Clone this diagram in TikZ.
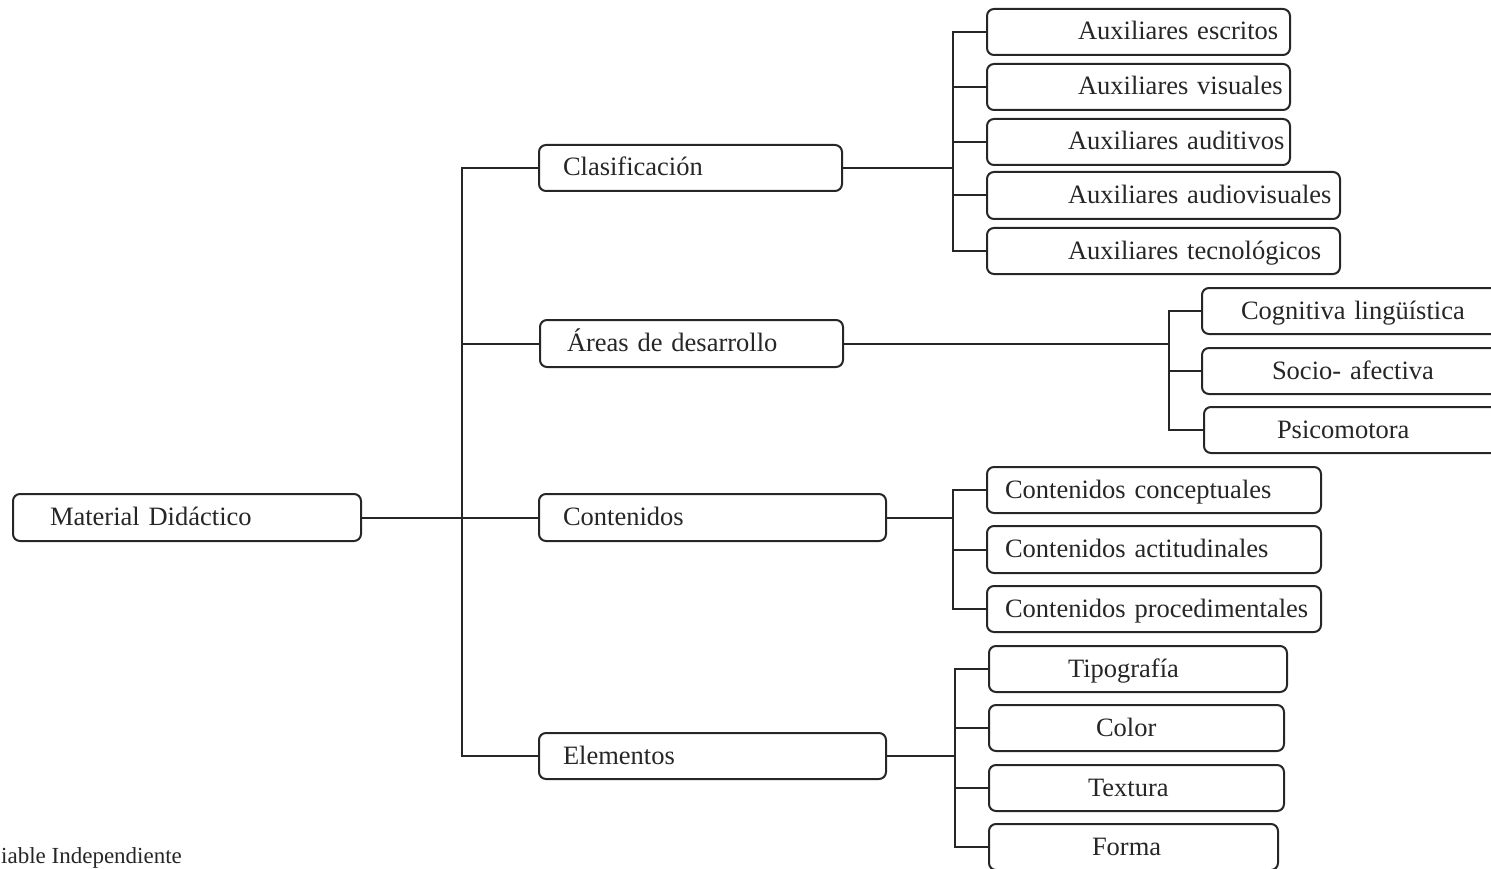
\documentclass[tikz,border=0pt]{standalone}
\usepackage{fontspec}
\setmainfont{Liberation Serif}
\usetikzlibrary{calc}
\newcommand{\bs}{\rule[-8pt]{0pt}{32pt}}
\tikzset{
  box/.style={draw=black!85, line width=2pt, rounded corners=7pt, anchor=north west,
    inner xsep=0pt, inner ysep=0pt, outer sep=0pt, align=left,
    font=\fontsize{26.5}{30}\selectfont, text=black!85},
  conn/.style={draw=black!85, line width=2pt},
}
\begin{document}
\begin{tikzpicture}[x=1pt,y=-1pt]
\useasboundingbox (0,0) rectangle (1491,869);
\clip (0,0) rectangle (1491,869);
% level 0 / 1
\node[box, text width=348pt, minimum height=47pt] (mat) at (13,494) {\hspace*{37pt}\bs Material Didáctico};
\node[box, text width=303pt, minimum height=46pt] (clas) at (539,145) {\hspace*{24pt}\bs Clasificación};
\node[box, text width=303pt, minimum height=47pt] (areas) at (540,320) {\hspace*{27pt}\bs Áreas de desarrollo};
\node[box, text width=347pt, minimum height=47pt] (cont) at (539,494) {\hspace*{24pt}\bs Contenidos};
\node[box, text width=347pt, minimum height=46pt] (elem) at (539,733) {\hspace*{24pt}\bs Elementos};
% Clasificación children
\node[box, text width=303pt, minimum height=46pt] (ax1) at (987,9) {\hspace*{91pt}\bs Auxiliares escritos};
\node[box, text width=303pt, minimum height=46pt] (ax2) at (987,64) {\hspace*{91pt}\bs Auxiliares visuales};
\node[box, text width=303pt, minimum height=46pt] (ax3) at (987,119) {\hspace*{81pt}\bs Auxiliares auditivos};
\node[box, text width=353pt, minimum height=47pt] (ax4) at (987,172) {\hspace*{81pt}\bs Auxiliares audiovisuales};
\node[box, text width=353pt, minimum height=46pt] (ax5) at (987,228) {\hspace*{81pt}\bs Auxiliares tecnológicos};
% Áreas children
\node[box, text width=298pt, minimum height=46pt] (ar1) at (1202,288) {\hspace*{39pt}\bs Cognitiva lingüística};
\node[box, text width=298pt, minimum height=46pt] (ar2) at (1202,348) {\hspace*{70pt}\bs Socio- afectiva};
\node[box, text width=296pt, minimum height=46pt] (ar3) at (1204,407) {\hspace*{73pt}\bs Psicomotora};
% Contenidos children
\node[box, text width=334pt, minimum height=46pt] (ct1) at (987,467) {\hspace*{18pt}\bs Contenidos conceptuales};
\node[box, text width=334pt, minimum height=47pt] (ct2) at (987,526) {\hspace*{18pt}\bs Contenidos actitudinales};
\node[box, text width=334pt, minimum height=46pt] (ct3) at (987,586) {\hspace*{18pt}\bs Contenidos procedimentales};
% Elementos children
\node[box, text width=298pt, minimum height=46pt] (el1) at (989,646) {\hspace*{79pt}\bs Tipografía};
\node[box, text width=295pt, minimum height=46pt] (el2) at (989,705) {\hspace*{107pt}\bs Color};
\node[box, text width=295pt, minimum height=46pt] (el3) at (989,765) {\hspace*{99pt}\bs Textura};
\node[box, text width=289pt, minimum height=46pt] (el4) at (989,824) {\hspace*{103pt}\bs Forma};
% caption fragment
\node[anchor=base west, inner sep=0pt, font=\fontsize{23}{26}\selectfont, text=black!85] (cap) at (1,863) {iable Independiente};
% trunk
\coordinate (t0) at (462,0);
\draw[conn] (mat.east) -- (cont.west);
\draw[conn] (clas.west) -| (t0 |- elem.west) -- (elem.west);
\draw[conn] (areas.west) -- (t0 |- areas.west);
% Clasificación branch
\coordinate (t1) at (953,0);
\draw[conn] (clas.east) -- (t1 |- clas.east);
\draw[conn] (ax1.west) -| (t1 |- ax5.west) -- (ax5.west);
\draw[conn] (ax2.west) -- (t1 |- ax2.west);
\draw[conn] (ax3.west) -- (t1 |- ax3.west);
\draw[conn] (ax4.west) -- (t1 |- ax4.west);
% Áreas branch
\coordinate (t2) at (1169,0);
\draw[conn] (areas.east) -- (t2 |- areas.east);
\draw[conn] (ar1.west) -| (t2 |- ar3.west) -- (ar3.west);
\draw[conn] (ar2.west) -- (t2 |- ar2.west);
% Contenidos branch
\coordinate (t3) at (953,0);
\draw[conn] (cont.east) -- (t3 |- cont.east);
\draw[conn] (ct1.west) -| (t3 |- ct3.west) -- (ct3.west);
\draw[conn] (ct2.west) -- (t3 |- ct2.west);
% Elementos branch
\coordinate (t4) at (955,0);
\draw[conn] (elem.east) -- (t4 |- elem.east);
\draw[conn] (el1.west) -| (t4 |- el4.west) -- (el4.west);
\draw[conn] (el2.west) -- (t4 |- el2.west);
\draw[conn] (el3.west) -- (t4 |- el3.west);
\end{tikzpicture}
\end{document}
